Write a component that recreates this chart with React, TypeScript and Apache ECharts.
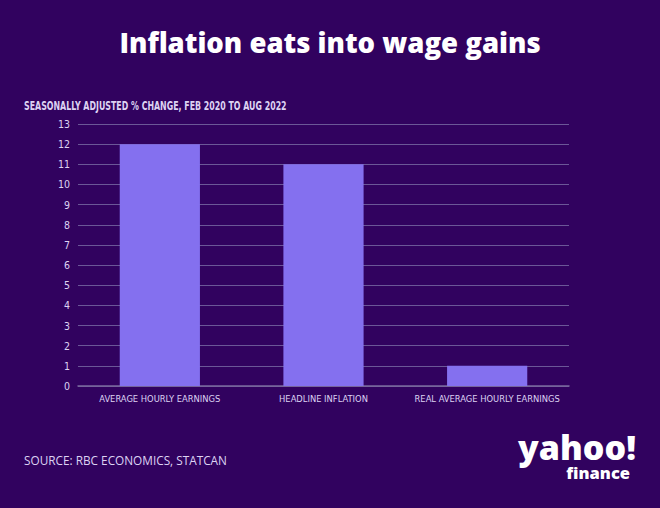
import React, { useEffect, useRef } from "react";
import * as echarts from "echarts";

const categories = ["AVERAGE HOURLY EARNINGS", "HEADLINE INFLATION", "REAL AVERAGE HOURLY EARNINGS"];
const values = [12, 11, 1];
const titleText = "Inflation eats into wage gains";
const subtitleText = "SEASONALLY ADJUSTED % CHANGE, FEB 2020 TO AUG 2022";
const sourceText = "SOURCE: RBC ECONOMICS, STATCAN";

const BG = "#31025f";
const BAR = "#8470ef";
const LABEL = "#ddd3f3";
const COND = "'DejaVu Sans Condensed', 'Liberation Sans Narrow', 'Roboto', sans-serif";

export default function App() {
  const ref = useRef<HTMLDivElement>(null);
  useEffect(() => {
    const chart = echarts.init(ref.current!, null, { renderer: "svg" });
    chart.setOption({
      animation: false,
      backgroundColor: BG,
      title: {
        text: titleText,
        left: "center",
        top: 23,
        textStyle: { color: "#ffffff", fontFamily: "'Open Sans', sans-serif", fontWeight: 800, fontSize: 27.5 },
      },
      grid: { left: 78, right: 91, top: 124, bottom: 122 },
      xAxis: {
        type: "category",
        data: categories,
        axisLine: { lineStyle: { color: "#7a6a9e", width: 1.5 } },
        axisTick: { alignWithLabel: true, lineStyle: { color: "#7a6a9e" }, length: 4 },
        axisLabel: { color: LABEL, fontFamily: COND, fontSize: 9.3, margin: 8, interval: 0 },
      },
      yAxis: {
        type: "value",
        min: 0,
        max: 13,
        interval: 1,
        axisLine: { show: false },
        axisTick: { show: false },
        axisLabel: { color: LABEL, fontFamily: COND, fontSize: 10.5, margin: 8 },
        splitLine: { lineStyle: { color: "#6b5797", width: 1 } },
      },
      series: [
        {
          type: "bar",
          data: values,
          barWidth: "49%",
          itemStyle: { color: BAR },
        },
      ],
      graphic: [
        {
          type: "text",
          x: 24,
          y: 105,
          scaleX: 0.73,
          style: { text: subtitleText, fill: LABEL, font: `bold 12px ${COND}`, textVerticalAlign: "middle" },
        },
        {
          type: "text",
          x: 24,
          y: 460,
          style: { text: sourceText, fill: LABEL, font: `11.8px 'Open Sans', sans-serif`, textVerticalAlign: "middle" },
        },
        {
          type: "text",
          x: 636,
          y: 430,
          style: {
            text: "{a|yahoo!}\n{b|finance}",
            fill: "#ffffff",
            textAlign: "right",
            textVerticalAlign: "top",
            rich: {
              a: { fontFamily: "'Open Sans', sans-serif", fontWeight: 800, fontSize: 34, lineHeight: 34, fill: "#ffffff", align: "right" },
              b: { fontFamily: "'Open Sans', sans-serif", fontWeight: 800, fontSize: 16.5, lineHeight: 16, fill: "#ffffff", align: "right", padding: [0, 6, 0, 0] },
            },
          },
        },
      ],
    });
    return () => chart.dispose();
  }, []);
  return <div ref={ref} style={{ position: "fixed", left: 0, top: 0, width: 660, height: 508 }} />;
}
